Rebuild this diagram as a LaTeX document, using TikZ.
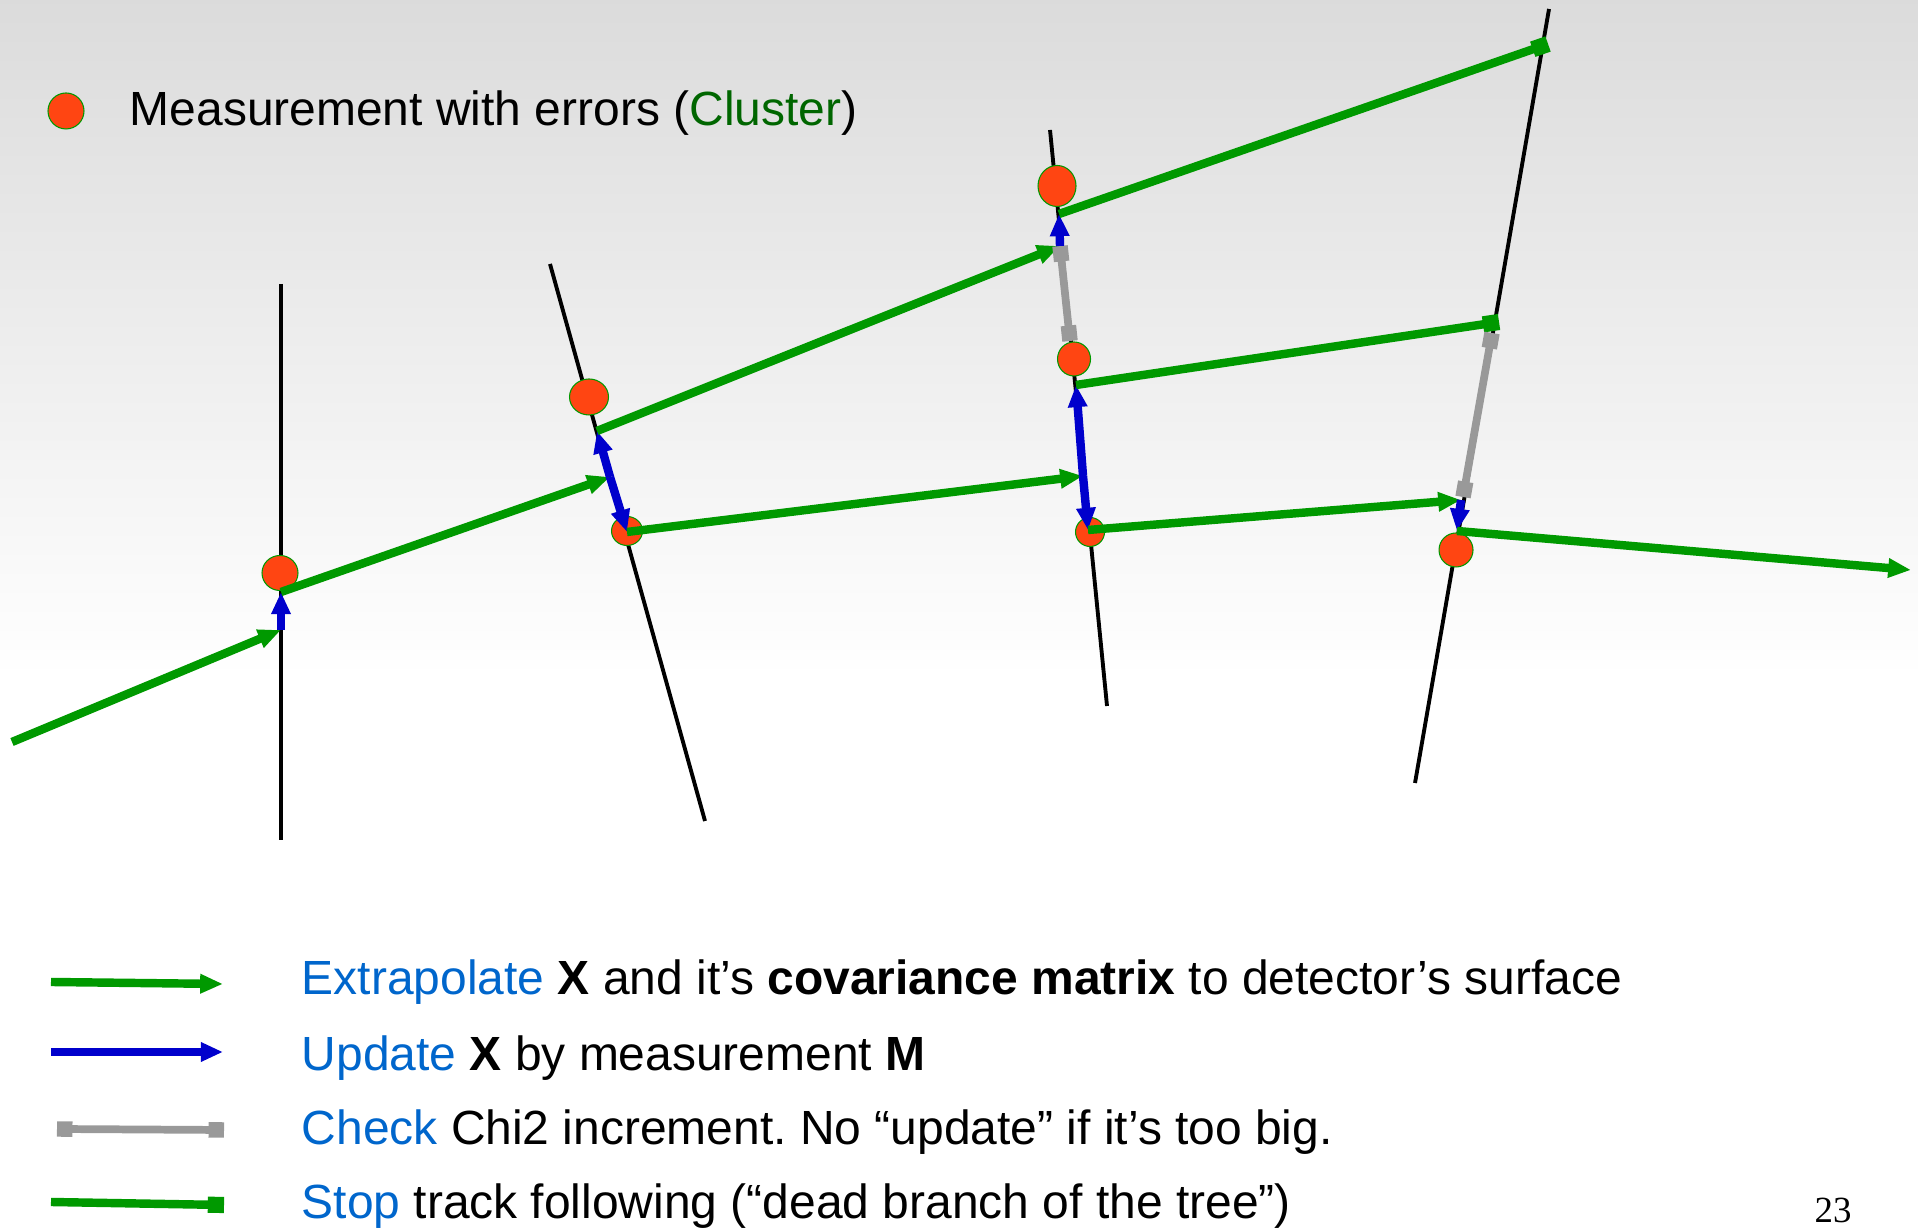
\documentclass[tikz,border=0pt]{standalone}
\usepackage{fontspec}
\setmainfont{Liberation Sans}
\newfontfamily\slidenumfont{Liberation Serif}
\usetikzlibrary{arrows.meta,shapes.geometric}
\frenchspacing

\definecolor{trackgreen}{RGB}{0,153,0}
\definecolor{updateblue}{RGB}{0,0,204}
\definecolor{checkgray}{RGB}{153,153,153}
\definecolor{clusterred}{RGB}{255,69,18}
\definecolor{wordblue}{RGB}{0,102,204}
\definecolor{wordgreen}{RGB}{0,102,0}

\begin{document}
\begin{tikzpicture}[
  plane/.style={draw=black, line width=1.1pt},
  cluster/.style={ellipse, fill=clusterred, draw=trackgreen, line width=0.3pt, inner sep=0pt},
  extrap/.style={draw=trackgreen, line width=2.4pt, -{Triangle[length=6.5pt,width=5.2pt]}},
  update/.style={draw=updateblue, line width=2.4pt, -{Triangle[length=6.3pt,width=5.2pt]}},
  check/.style={draw=checkgray, line width=2.2pt,
                {Square[length=4.4pt,width=4.4pt]}-{Square[length=4.4pt,width=4.4pt]}},
  stoptrack/.style={draw=trackgreen, line width=2.4pt, -{Square[length=4.6pt,width=4.6pt]}},
  txt/.style={anchor=base west, inner sep=0pt, font=\fontsize{13.65}{16}\selectfont}
]
  \useasboundingbox (0,0) rectangle (19.18,12.28);
  \shade[top color=black!14, bottom color=white] (0,5.5) rectangle (19.18,12.28);

  % detector surfaces
  \draw[plane] (2.81,9.44) -- (2.81,3.88);
  \draw[plane] (5.50,9.64) -- (7.05,4.07);
  \draw[plane] (10.50,10.98) -- (11.07,5.22);
  \draw[plane] (15.49,12.19) -- (14.15,4.45);

  % clusters
  \node[cluster, minimum width=0.36cm, minimum height=0.35cm] (c1)  at (2.80,6.55) {};
  \node[cluster, minimum width=0.39cm, minimum height=0.36cm] (c2a) at (5.89,8.31) {};
  \node[cluster, minimum width=0.31cm, minimum height=0.29cm] (c2b) at (6.27,6.97) {};
  \node[cluster, minimum width=0.38cm, minimum height=0.41cm] (c3a) at (10.57,10.42) {};
  \node[cluster, minimum width=0.33cm, minimum height=0.34cm] (c3b) at (10.74,8.69) {};
  \node[cluster, minimum width=0.29cm, minimum height=0.29cm] (c3c) at (10.90,6.96) {};
  \node[cluster, minimum width=0.34cm, minimum height=0.34cm] (c4)  at (14.56,6.78) {};

  % track states
  \coordinate (t0)   at (0.12,4.86);
  \coordinate (e1)   at (2.81,5.98);
  \coordinate (u1)   at (2.81,6.36);
  \coordinate (e2)   at (6.10,7.51);
  \coordinate (u2a)  at (5.97,7.97);
  \coordinate (u2b)  at (6.27,6.96);
  \coordinate (e3a)  at (10.60,9.82);
  \coordinate (ck3)  at (10.70,8.87);
  \coordinate (u3a)  at (10.59,10.14);
  \coordinate (e3b)  at (10.83,7.52);
  \coordinate (u3b)  at (10.76,8.43);
  \coordinate (u3c)  at (10.88,6.98);
  \coordinate (s4a)  at (15.48,11.84);
  \coordinate (s4b)  at (14.99,9.06);
  \coordinate (ck4a) at (14.92,8.95);
  \coordinate (ck4b) at (14.63,7.31);
  \coordinate (e4)   at (14.61,7.28);
  \coordinate (u4)   at (14.57,6.97);
  \coordinate (t9)   at (19.11,6.58);

  \draw[extrap] (t0) -- (e1);
  \draw[update] (e1) -- (u1);
  \draw[extrap] (u1) -- (e2);
  \draw[update] (e2) -- (u2a);
  \draw[update] (e2) -- (u2b);
  \draw[extrap] (u2a) -- (e3a);
  \draw[extrap] (u2b) -- (e3b);
  \draw[check]  (e3a) -- (ck3);
  \draw[update] (e3a) -- (u3a);
  \draw[update] (e3b) -- (u3b);
  \draw[update] (e3b) -- (u3c);
  \draw[stoptrack] (u3a) -- (s4a);
  \draw[stoptrack] (u3b) -- (s4b);
  \draw[check]  (ck4a) -- (ck4b);
  \draw[extrap] (u3c) -- (e4);
  \draw[update] (e4) -- (u4);
  \draw[extrap] (u4) -- (t9);

  % legend
  \node[cluster, minimum width=0.36cm, minimum height=0.36cm] (lgdot) at (0.66,11.17) {};
  \node[txt] (lgtop) at (1.29,11.02) {Measurement with errors (\textcolor{wordgreen}{Cluster})};

  \coordinate (k1a) at (0.51,2.46);  \coordinate (k1b) at (2.23,2.44);
  \coordinate (k2a) at (0.51,1.76);  \coordinate (k2b) at (2.23,1.76);
  \coordinate (k3a) at (0.57,0.99);  \coordinate (k3b) at (2.24,0.98);
  \coordinate (k4a) at (0.51,0.26);  \coordinate (k4b) at (2.24,0.23);
  \draw[extrap] (k1a) -- (k1b);
  \draw[update] (k2a) -- (k2b);
  \draw[check]  (k3a) -- (k3b);
  \draw[stoptrack] (k4a) -- (k4b);

  \node[txt] (lgext) at (3.01,2.33) {\textcolor{wordblue}{Extrapolate} \textbf{X} and it’s \textbf{covariance matrix} to detector’s surface};
  \node[txt] (lgupd) at (3.01,1.57) {\textcolor{wordblue}{Update} \textbf{X} by measurement \textbf{M}};
  \node[txt] (lgchk) at (3.01,0.83) {\textcolor{wordblue}{Check} Chi2 increment. No “update” if it’s too big.};
  \node[txt] (lgstp) at (3.01,0.09) {\textcolor{wordblue}{Stop} track following (“dead branch of the tree”)};

  \node[anchor=base, inner sep=0pt, font=\slidenumfont\fontsize{10.5}{12}\selectfont] (pagenum) at (18.33,0.05) {23};
\end{tikzpicture}
\end{document}
